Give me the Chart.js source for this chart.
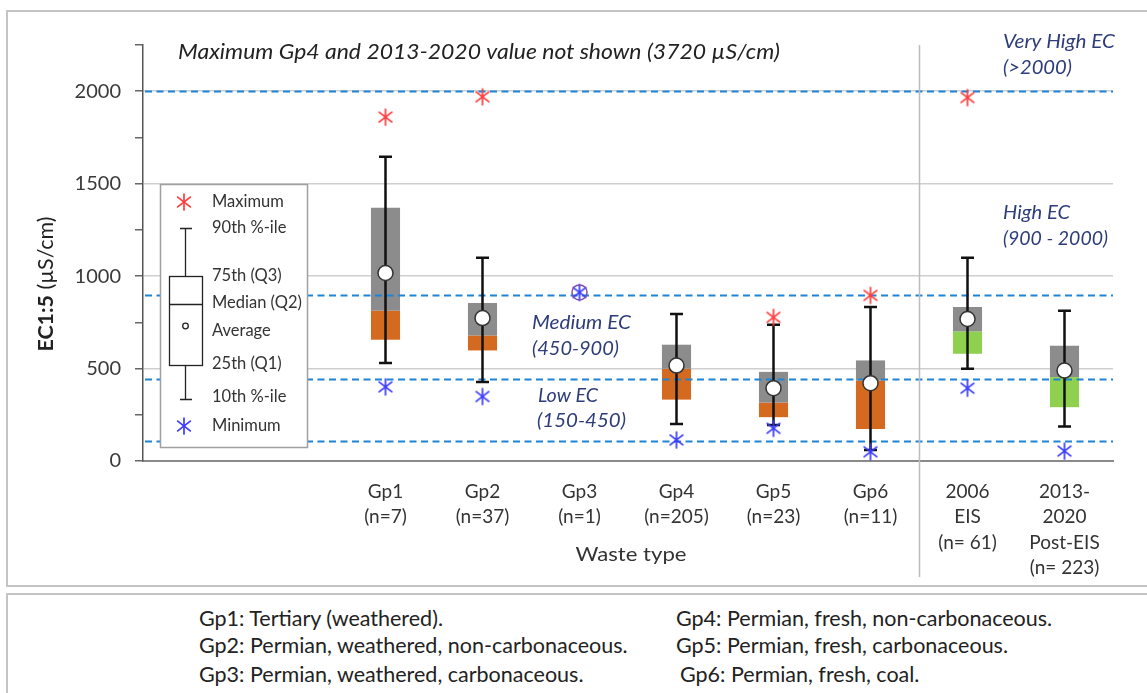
<!DOCTYPE html>
<html>
<head>
<meta charset="utf-8">
<script src="https://cdn.jsdelivr.net/npm/chart.js@4/dist/chart.umd.min.js"></script>
<style>
  html,body{margin:0;padding:0;background:#fff;}
  body{width:1147px;height:693px;position:relative;overflow:hidden;font-family:Lato, "Open Sans", sans-serif;}
  #frame{position:absolute;left:6px;top:10px;width:1150px;height:577px;border:2px solid #c4c4c4;box-sizing:border-box;}
  #wrap{position:absolute;left:0;top:0;width:1147px;height:588px;}
  #foot{position:absolute;left:6px;top:593px;width:1150px;height:110px;border:2px solid #c4c4c4;box-sizing:border-box;}
  .fn{position:absolute;font-size:21.5px;color:#222;white-space:nowrap;line-height:22px;}
</style>
</head>
<body>
<div id="frame"></div>
<div id="wrap"><canvas id="c" width="1147" height="588"></canvas></div>
<div id="foot"></div>
<div class="fn" style="left:199px;top:607px">Gp1: Tertiary (weathered).</div>
<div class="fn" style="left:199px;top:634px">Gp2: Permian, weathered, non-carbonaceous.</div>
<div class="fn" style="left:199px;top:663px">Gp3: Permian, weathered, carbonaceous.</div>
<div class="fn" style="left:676px;top:607px">Gp4: Permian, fresh, non-carbonaceous.</div>
<div class="fn" style="left:676px;top:634px">Gp5: Permian, fresh, carbonaceous.</div>
<div class="fn" style="left:680px;top:663px">Gp6: Permian, fresh, coal.</div>
<script>
// ---- data ----
const categories = [[''], [''], ['Gp1','(n=7)'], ['Gp2','(n=37)'], ['Gp3','(n=1)'], ['Gp4','(n=205)'], ['Gp5','(n=23)'], ['Gp6','(n=11)'], ['2006','EIS','(n= 61)'], ['2013-','2020','Post-EIS','(n= 223)']];
const maxVals  = [null, null, 1860, 1970, null, null, 777, 896, 1966, null];
const p90Vals  = [null, null, 1646, 1099, null, 795, 737, 833, 1099, 813];
const q3Vals   = [null, null, 1370, 855, null, 629, 482, 544, 833, 623];
const medVals  = [null, null, 813, 679, null, 499, 316, 435, 701, 454];
const q1Vals   = [null, null, 656, 598, null, 332, 237, 173, 580, 291];
const p10Vals  = [null, null, 530, 427, null, 200, 195, 60, 499, 186];
const avgVals  = [null, null, 1017, 773, 912, 516, 394, 421, 768, 489];
const minVals  = [null, null, 401, 349, 912, 114, 177, 50, 394, 54];
const thresholds = [2000, 900, 445, 108];
const yTicksMajor = [0, 500, 1000, 1500, 2000];

const ORANGE = '#d46a1f', GREEN = '#8fd14f', GRAY = '#8c8c8c';
const lowerColors = categories.map((c,i)=> i>=8 ? GREEN : ORANGE);

function makeStar(color){
  const c=document.createElement('canvas'); c.width=c.height=20;
  const g=c.getContext('2d'); g.strokeStyle=color; g.lineWidth=1.7; g.lineCap='round';
  g.translate(10,10);
  [90,38,142].forEach(a=>{const r=8,t=a*Math.PI/180;g.beginPath();g.moveTo(-r*Math.cos(t),-r*Math.sin(t));g.lineTo(r*Math.cos(t),r*Math.sin(t));g.stroke();});
  return c;
}
const starRed = makeStar('#ff3b3b'), starBlue = makeStar('#3b3bff');

const FONT = 'Lato';
function fitText(ctx, text, x, y, font, w, align){
  ctx.save(); ctx.font=font; ctx.textBaseline='middle'; ctx.textAlign='left';
  const m=ctx.measureText(text).width, s=w/m;
  const x0 = align==='center' ? x - w/2 : x;
  ctx.translate(x0,y); ctx.scale(s,1); ctx.fillText(text,0,0); ctx.restore();
}
const overlay = {
  id:'overlay',
  afterDatasetDraw(chart, args){
    if(args.index !== 1) return;
    const ctx=chart.ctx, xs=chart.scales.x, ys=chart.scales.y, a=chart.chartArea;
    ctx.save();
    ctx.strokeStyle='#1f84d6'; ctx.lineWidth=2; ctx.setLineDash([7,4.5]);
    thresholds.forEach(v=>{const y=Math.round(ys.getPixelForValue(v))+0.5;ctx.beginPath();ctx.moveTo(a.left+2,y);ctx.lineTo(a.right,y);ctx.stroke();});
    ctx.setLineDash([]);
    ctx.strokeStyle='#111'; ctx.lineWidth=2.5;
    p10Vals.forEach((v,i)=>{
      if(v==null) return;
      const x=xs.getPixelForValue(i), y1=ys.getPixelForValue(v), y2=ys.getPixelForValue(p90Vals[i]);
      ctx.beginPath(); ctx.moveTo(x,y1); ctx.lineTo(x,y2);
      ctx.moveTo(x-6.5,y1); ctx.lineTo(x+6.5,y1);
      ctx.moveTo(x-6.5,y2); ctx.lineTo(x+6.5,y2); ctx.stroke();
    });
    ctx.restore();
  },
  afterDraw(chart){
    const ctx=chart.ctx, xs=chart.scales.x, ys=chart.scales.y, a=chart.chartArea;
    ctx.save();
    const sx=Math.round((xs.getPixelForValue(7)+xs.getPixelForValue(8))/2)+0.5;
    ctx.strokeStyle='#bdbdbd'; ctx.lineWidth=1.5;
    ctx.beginPath(); ctx.moveTo(sx,a.top); ctx.lineTo(sx,577); ctx.stroke();
    // annotations
    ctx.fillStyle='#222';
    fitText(ctx,'Maximum Gp4 and 2013-2020 value not shown (3720 µS/cm)',178,52,'italic 21px '+FONT,602);
    ctx.fillStyle='#2e3d7a';
    const zf='italic 19px '+FONT;
    fitText(ctx,'Very High EC',1003,42,zf,112); fitText(ctx,'(>2000)',1003,68,zf,69);
    fitText(ctx,'High EC',1003,213,zf,67); fitText(ctx,'(900 - 2000)',1003,239,zf,105);
    fitText(ctx,'Medium EC',532,323,zf,99); fitText(ctx,'(450-900)',532,349,zf,87);
    fitText(ctx,'Low EC',538,396,zf,60); fitText(ctx,'(150-450)',537,421,zf,89);
    ctx.fillStyle='#333';
    fitText(ctx,'Waste type',(xs.getPixelForValue(2)+xs.getPixelForValue(7))/2+3,555,'20px '+FONT,111,'center');
    // y title
    ctx.save(); ctx.translate(46,284); ctx.rotate(-Math.PI/2);
    ctx.font='bold 21px '+FONT; const w1=ctx.measureText('EC1:5').width;
    ctx.font='21px '+FONT; const w2=ctx.measureText(' (µS/cm)').width;
    const sc=135/(w1+w2); ctx.scale(sc,1);
    const sx0=-(w1+w2)/2; ctx.textAlign='left'; ctx.textBaseline='middle'; ctx.fillStyle='#222';
    ctx.font='bold 21px '+FONT; ctx.fillText('EC1:5',sx0,0);
    ctx.font='21px '+FONT; ctx.fillText(' (µS/cm)',sx0+w1,0);
    ctx.restore();
    // legend box
    ctx.fillStyle='#fff'; ctx.fillRect(160,184,147,263);
    ctx.strokeStyle='#a0a0a0'; ctx.lineWidth=1.5; ctx.strokeRect(160.5,184.5,147,263);
    ctx.drawImage(starRed,174,192);
    ctx.drawImage(starBlue,174,416);
    ctx.strokeStyle='#222'; ctx.lineWidth=1.3;
    ctx.beginPath(); ctx.moveTo(185.5,228); ctx.lineTo(185.5,276); ctx.moveTo(180,228.5); ctx.lineTo(192,228.5);
    ctx.moveTo(185.5,366); ctx.lineTo(185.5,399); ctx.moveTo(180,399.5); ctx.lineTo(192,399.5); ctx.stroke();
    ctx.strokeRect(169.5,276.5,33,89);
    ctx.beginPath(); ctx.moveTo(169,304.5); ctx.lineTo(203,304.5); ctx.stroke();
    ctx.beginPath(); ctx.arc(185.5,326,2.8,0,Math.PI*2); ctx.stroke();
    ctx.fillStyle='#333'; ctx.font='16.5px '+FONT; ctx.textAlign='left'; ctx.textBaseline='middle';
    [['Maximum',202],['90th %-ile',228],['75th (Q3)',276],['Median (Q2)',303],['Average',331],['25th (Q1)',364],['10th %-ile',397],['Minimum',426]].forEach(([t,y])=>ctx.fillText(t,212,y));
    ctx.restore();
  }
};

new Chart(document.getElementById('c'), {
  type:'bar',
  data:{
    labels:categories,
    datasets:[
      {label:'Q1-Median', data:q1Vals.map((v,i)=>v==null?null:[v,medVals[i]]), backgroundColor:lowerColors, order:5},
      {label:'Median-Q3', data:q3Vals.map((v,i)=>v==null?null:[medVals[i],v]), backgroundColor:GRAY, order:4},
      {type:'line', label:'Maximum', data:maxVals, showLine:false, pointStyle:starRed, order:3},
      {type:'line', label:'Minimum', data:minVals, showLine:false, pointStyle:starBlue, order:2},
      {type:'line', label:'Average', data:avgVals, showLine:false, pointStyle:'circle', pointRadius:7.5,
       pointBackgroundColor:avgVals.map((v,i)=>i===4?'rgba(0,0,0,0)':'#fff'),
       pointBorderColor:avgVals.map((v,i)=>i===4?'#7a4fb0':'#333'), pointBorderWidth:1.5, order:1}
    ]
  },
  options:{
    responsive:false, animation:false, events:[],
    layout:{padding:{top:45,left:0,right:34,bottom:0}},
    datasets:{bar:{grouped:false, barPercentage:0.3, categoryPercentage:1}},
    plugins:{legend:{display:false}, tooltip:{enabled:false}},
    scales:{
      x:{
        grid:{display:false},
        border:{color:'#8a8a8a', width:2},
        ticks:{color:'#333', font:{family:FONT, size:19, lineHeight:1.34}, padding:10, maxRotation:0, autoSkip:false},
        afterFit(s){s.height=127;}
      },
      y:{
        min:0, max:2250,
        afterBuildTicks(s){const t=[];for(let v=0;v<=2250;v+=250)t.push({value:v});s.ticks=t;},
        grid:{color:c=> (yTicksMajor.includes(c.tick.value) && c.tick.value>0) ? '#cfcfcf':'rgba(0,0,0,0)', lineWidth:1.5, tickColor:'#666', tickLength:8},
        border:{color:'#555', width:1.5},
        ticks:{color:'#3a3a3a', font:{family:FONT, size:20}, padding:14, callback:(v)=> yTicksMajor.includes(v)? String(v):''},
        afterFit(s){s.width=143;}
      }
    }
  },
  plugins:[overlay]
});
</script>
</body>
</html>
